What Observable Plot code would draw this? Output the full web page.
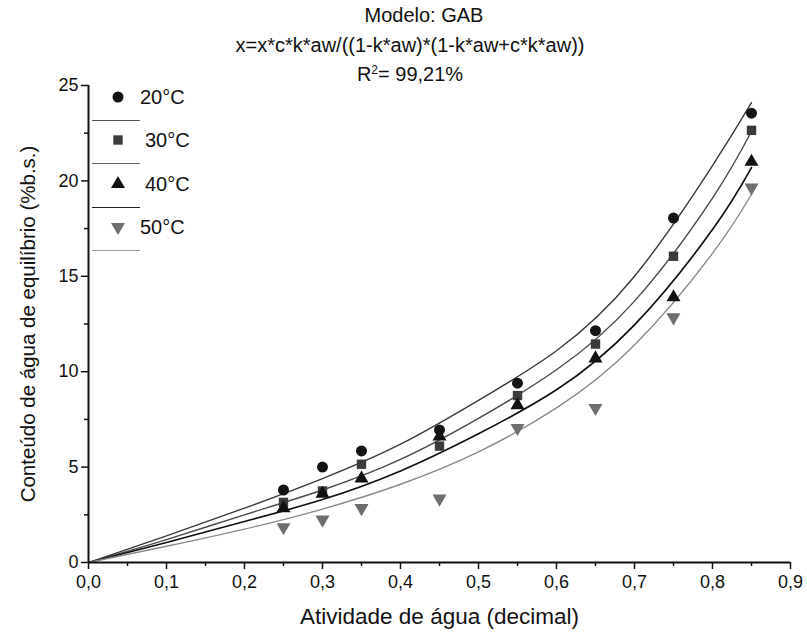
<!DOCTYPE html>
<html><head><meta charset="utf-8">
<script src="https://cdn.jsdelivr.net/npm/d3@7"></script>
<script src="https://cdn.jsdelivr.net/npm/@observablehq/plot@0.6"></script>
<style>
body{margin:0;background:#fff;font-family:"Liberation Sans",Arial,sans-serif;color:#111;}
#wrap{position:relative;width:807px;height:634px;overflow:hidden;}
#title{position:absolute;left:0;top:1px;width:820px;text-align:center;font-size:20px;line-height:29.5px;color:#111;z-index:2;}
#title .l1{position:relative;left:14px;}
#title sup{font-size:12px;line-height:0;vertical-align:7px;}
#legend{position:absolute;left:0;top:0;z-index:2;}
.lg-row{position:absolute;font-size:20px;line-height:22px;}
.lg-line{position:absolute;height:0;}
svg g[aria-label="x-axis label"] text{font-size:22.5px;}
svg g[aria-label="y-axis label"] text{font-size:20.5px;}
</style>
</head><body>
<div id="wrap">
  <div id="title"><span class="l1">Modelo: GAB</span><br>x=x*c*k*aw/((1-k*aw)*(1-k*aw+c*k*aw))<br>R<sup>2</sup>= 99,21%</div>
  <div id="legend"></div>
</div>
<script>
// ---- data ----
const seriesNames = ["20°C", "30°C", "40°C", "50°C"];
const awObs = [0.25, 0.30, 0.35, 0.45, 0.55, 0.65, 0.75, 0.85];
const obs20 = [3.8, 5.0, 5.85, 6.95, 9.4, 12.15, 18.05, 23.55];
const obs30 = [3.15, 3.75, 5.15, 6.1, 8.75, 11.45, 16.05, 22.65];
const obs40 = [2.85, 3.6, 4.4, 6.6, 8.25, 10.7, 13.9, 21.0];
const obs50 = [1.85, 2.25, 2.85, 3.35, 7.05, 8.1, 12.85, 19.65];
const awFit = [0, 0.1, 0.2, 0.3, 0.4, 0.5, 0.6, 0.7, 0.8, 0.85];
const fit20 = [0, 1.4, 2.85, 4.4, 6.2, 8.5, 11.1, 15.0, 20.8, 24.1];
const fit30 = [0, 1.2, 2.5, 3.8, 5.4, 7.55, 10.1, 13.7, 19.1, 22.6];
const fit40 = [0, 1.05, 2.15, 3.3, 4.8, 6.75, 9.05, 12.45, 17.45, 20.7];
const fit50 = [0, 0.85, 1.75, 2.8, 4.1, 5.8, 8.1, 11.4, 16.2, 19.3];
const xMajor = [0, 0.1, 0.2, 0.3, 0.4, 0.5, 0.6, 0.7, 0.8, 0.9];
const xMinor = [0.05, 0.15, 0.25, 0.35, 0.45, 0.55, 0.65, 0.75, 0.85];
const yMajor = [0, 5, 10, 15, 20, 25];
const yMinor = [2.5, 7.5, 12.5, 17.5, 22.5];

// ---- styles ----
const triangleDown = {
  draw(ctx, size) {
    const y = -Math.sqrt(size / (Math.sqrt(3) * 3));
    ctx.moveTo(0, -y * 2);
    ctx.lineTo(-Math.sqrt(3) * y, y);
    ctx.lineTo(Math.sqrt(3) * y, y);
    ctx.closePath();
  }
};
const symbols = [d3.symbolCircle, d3.symbolSquare, d3.symbolTriangle, triangleDown];
const dotFill = ["#141414", "#3c3c3c", "#111111", "#6e6e6e"];
const dotR = [5.5, 5.3, 5.2, 5.2];
const lineStroke = ["#3a3a3a", "#4a4a4a", "#111111", "#8a8a8a"];
const lineWidth = [1.4, 1.4, 1.7, 1.4];
const legendLine = ["#555", "#666", "#222", "#999"];

const obsAll = [obs20, obs30, obs40, obs50];
const fitAll = [fit20, fit30, fit40, fit50];

const lineMarks = fitAll.map((vals, i) =>
  Plot.line(awFit.map((a, j) => ({aw: a, v: vals[j]})), {
    x: "aw", y: "v", stroke: lineStroke[i], strokeWidth: lineWidth[i], curve: "natural"
  }));
const dotMarks = obsAll.map((vals, i) =>
  Plot.dot(awObs.map((a, j) => ({aw: a, v: vals[j]})), {
    x: "aw", y: "v", symbol: () => symbols[i], r: dotR[i], fill: dotFill[i], stroke: "none"
  }));

const fmtX = d => d.toFixed(1).replace(".", ",");

const chart = Plot.plot({
  width: 807, height: 634,
  marginTop: 85, marginBottom: 72, marginLeft: 88, marginRight: 17,
  x: {domain: [0, 0.9]},
  y: {domain: [0, 25]},
  style: {fontFamily: "'Liberation Sans', Arial, sans-serif", fontSize: "18px", color: "#111", background: "transparent", overflow: "visible"},
  marks: [
    Plot.axisX({ticks: xMinor, tickSize: 4, strokeWidth: 1.5, tickFormat: () => "", label: null}),
    Plot.axisX({ticks: xMajor, tickSize: 7, strokeWidth: 1.5, tickPadding: 6, tickFormat: fmtX,
      label: "Atividade de água (decimal)", labelAnchor: "center", labelOffset: 61, labelArrow: "none"}),
    Plot.axisY({ticks: yMinor, tickSize: 4, strokeWidth: 1.5, tickFormat: () => "", label: null}),
    Plot.axisY({ticks: yMajor, tickSize: 7, strokeWidth: 1.5, tickPadding: 3, tickFormat: d => String(d),
      label: "Conteúdo de água de equilíbrio (%b.s.)", labelAnchor: "center", labelOffset: 68, labelArrow: "none"}),
    ...lineMarks,
    ...dotMarks,
    Plot.ruleX([0], {strokeWidth: 2, stroke: "#111"}),
    Plot.ruleY([0], {strokeWidth: 2, stroke: "#111"})
  ]
});
chart.style.position = "absolute";
chart.style.left = "0";
chart.style.top = "0";
document.getElementById("wrap").appendChild(chart);

// ---- legend ----
const legend = document.getElementById("legend");
const rowY = [97, 140, 184, 227];
const textX = [140, 145, 145, 140];
seriesNames.forEach((name, i) => {
  const s = document.createElementNS("http://www.w3.org/2000/svg", "svg");
  s.setAttribute("width", 20); s.setAttribute("height", 20);
  s.style.position = "absolute";
  s.style.left = (118 - 10) + "px";
  s.style.top = (rowY[i] - 10) + "px";
  const p = document.createElementNS("http://www.w3.org/2000/svg", "path");
  p.setAttribute("d", d3.symbol(symbols[i], Math.PI * dotR[i] * dotR[i])());
  p.setAttribute("transform", "translate(10,10)");
  p.setAttribute("fill", dotFill[i]);
  s.appendChild(p);
  legend.appendChild(s);
  const t = document.createElement("div");
  t.className = "lg-row";
  t.textContent = name;
  t.style.left = textX[i] + "px";
  t.style.top = (rowY[i] - 11) + "px";
  legend.appendChild(t);
  const l = document.createElement("div");
  l.className = "lg-line";
  l.style.left = "92px";
  l.style.width = "48px";
  l.style.top = (rowY[i] + 23) + "px";
  l.style.borderTop = "1.3px solid " + legendLine[i];
  legend.appendChild(l);
});
</script>
</body></html>
